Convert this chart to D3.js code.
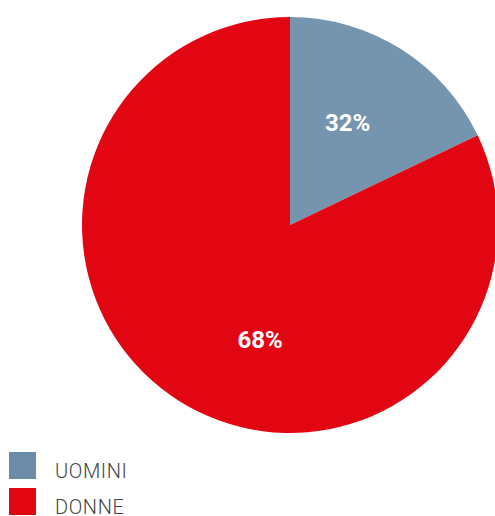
<html lang="en">
  <head>
    <meta charset="utf-8">
    <title>Uomini / Donne</title>
    <script src="https://d3js.org/d3.v7.min.js"></script>
    <style>
      body { margin: 0; background: #fff; }
    </style>
  </head>
  <body>
    <div id="viz"></div>
    <script type="text/javascript">
    // categories and values as drawn (the slice angles)
    var categories = ["UOMINI", "DONNE"];
    var sliceValues = [17.9, 82.1];
    var labelTexts = ["32%", "68%"];
    var colors = ["#7594ae", "#e20613"];

    var w = 495;
    var h = 516;
    var cx = 290, cy = 225, radius = 208;

    var svg = d3.select("#viz")
      .append("svg")
      .attr("width", w)
      .attr("height", h);

    var pie = d3.pie().sort(null).value(function(d) { return d; });
    var arc = d3.arc().innerRadius(0).outerRadius(radius);
    // labels sit a bit off the mid-angle in the original
    var labelRadius = 118;
    var labelShift = [-3 * Math.PI / 180, -17.6 * Math.PI / 180];

    var g = svg.append("g").attr("transform", "translate(" + cx + "," + cy + ")");

    var arcs = pie(sliceValues);

    g.selectAll("path")
      .data(arcs)
      .enter()
      .append("path")
      .attr("d", arc)
      .attr("fill", function(d, i) { return colors[i]; });

    g.selectAll("text")
      .data(arcs)
      .enter()
      .append("text")
      .attr("x", function(d, i) {
        var a = (d.startAngle + d.endAngle) / 2 + labelShift[i];
        return labelRadius * Math.sin(a);
      })
      .attr("y", function(d, i) {
        var a = (d.startAngle + d.endAngle) / 2 + labelShift[i];
        return -labelRadius * Math.cos(a);
      })
      .attr("dy", "0.36em")
      .attr("text-anchor", "middle")
      .attr("fill", "#fff")
      .style("font-family", "Roboto, sans-serif")
      .style("font-weight", "bold")
      .style("font-size", "24px")
      .text(function(d, i) { return labelTexts[i]; });

    // legend
    var legend = svg.append("g").attr("transform", "translate(9,452)");
    var item = legend.selectAll("g")
      .data(categories)
      .enter()
      .append("g")
      .attr("transform", function(d, i) { return "translate(0," + (i * 36) + ")"; });

    item.append("rect")
      .attr("width", 27)
      .attr("height", 27)
      .attr("fill", function(d, i) { return i === 0 ? "#6b8ba7" : colors[i]; });

    item.append("text")
      .attr("x", 46)
      .attr("y", 26)
      .attr("fill", "#444")
      .style("font-family", "Roboto, sans-serif")
      .style("font-weight", "300")
      .style("font-size", "20px")
      .style("letter-spacing", "0.6px")
      .text(function(d) { return d; });
    </script>
  </body>
</html>
